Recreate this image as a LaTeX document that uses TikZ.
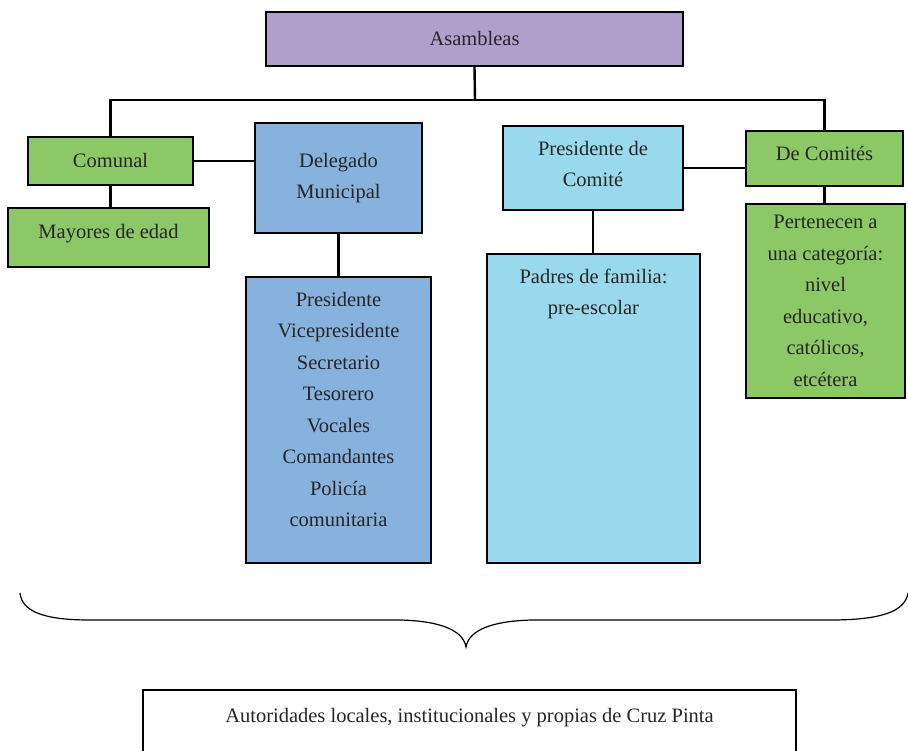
\documentclass[tikz,border=0pt]{standalone}
\usepackage{fontspec}
\setmainfont{Liberation Serif}
\definecolor{purp}{HTML}{B09FCB}
\definecolor{grn}{HTML}{8DC866}
\definecolor{blu}{HTML}{87B2DE}
\definecolor{lblu}{HTML}{99D9ED}
\definecolor{txt}{HTML}{262626}
\tikzset{
  box/.style={draw=black, line width=1.6pt, inner sep=0pt, align=center, text=txt,
    font=\fontsize{20.5}{31.5}\selectfont},
  conn/.style={line width=2.4pt, black},
  thin conn/.style={line width=1.6pt, black},
}
\begin{document}
\begin{tikzpicture}[x=1pt,y=-1pt]
\useasboundingbox (0,0) rectangle (908,750);
% boxes
\node[box, fill=purp, minimum width=417, minimum height=54] (asam) at (474.5,39) {\raisebox{1pt}{Asambleas}};
\node[box, fill=grn, minimum width=165, minimum height=48] (comunal) at (110.5,161) {\raisebox{1pt}{Comunal}};
\node[box, fill=grn, minimum width=201, minimum height=59] (mayores) at (108.5,237.5) {\raisebox{12pt}{Mayores de edad}};
\node[box, fill=blu, minimum width=167, minimum height=110] (deleg) at (338.5,178) {\raisebox{3pt}{\parbox{160pt}{\centering Delegado\\Municipal}}};
\node[box, fill=blu, minimum width=185, minimum height=286] (dlist) at (338.5,420)
  {\parbox[c][286pt][t]{185pt}{\centering\vspace*{15pt}Presidente\\Vicepresidente\\Secretario\\Tesorero\\Vocales\\Comandantes\\Policía\\comunitaria}};
\node[box, fill=lblu, minimum width=180, minimum height=84] (pres) at (593,168) {\raisebox{-1pt}[0pt][0pt]{\parbox{175pt}{\centering Presidente de\\Comité}}};
\node[box, fill=lblu, minimum width=213, minimum height=309] (padres) at (593.5,408.5)
  {\parbox[c][309pt][t]{213pt}{\centering\vspace*{15pt}Padres de familia:\\pre-escolar}};
\node[box, fill=grn, minimum width=157, minimum height=55] (decom) at (824.5,158.5) {\raisebox{10pt}{De Comités}};
\node[box, fill=grn, minimum width=159, minimum height=194] (pert) at (825.5,301)
  {\raisebox{-3pt}{\parbox{155pt}{\centering Pertenecen a\\una categoría:\\nivel\\educativo,\\católicos,\\etcétera}}};
\node[box, fill=white, line width=1.8pt, minimum width=653, minimum height=72] (auth) at (469.5,726)
  {\parbox[c][72pt][t]{650pt}{\centering\vspace*{18pt}Autoridades locales, institucionales y propias de Cruz Pinta}};
% connectors
\coordinate (bar) at (475,100);
\draw[conn] (asam.south) -- (bar);
\draw[conn] (comunal.north) |- (bar) -| (decom.north);
\draw[conn] (comunal.south) -- (mayores.north -| comunal.south);
\draw[thin conn] (comunal.east) -- (comunal.east -| deleg.west);
\draw[conn] (deleg.south) -- (dlist.north);
\draw[thin conn] (pres.east) -- (pres.east -| decom.west);
\draw[conn] (pres.south) -- (padres.north -| pres.south);
\draw[conn] (decom.south) -- (pert.north -| decom.south);
% brace
\draw[line width=1.2pt] (20,593) .. controls (22,612) and (45,620) .. (90,620) -- (400,620)
  .. controls (440,621) and (463,630) .. (466,647)
  .. controls (469,630) and (492,621) .. (532,620) -- (830,620)
  .. controls (880,620) and (905,612) .. (908,593);
\end{tikzpicture}
\end{document}
